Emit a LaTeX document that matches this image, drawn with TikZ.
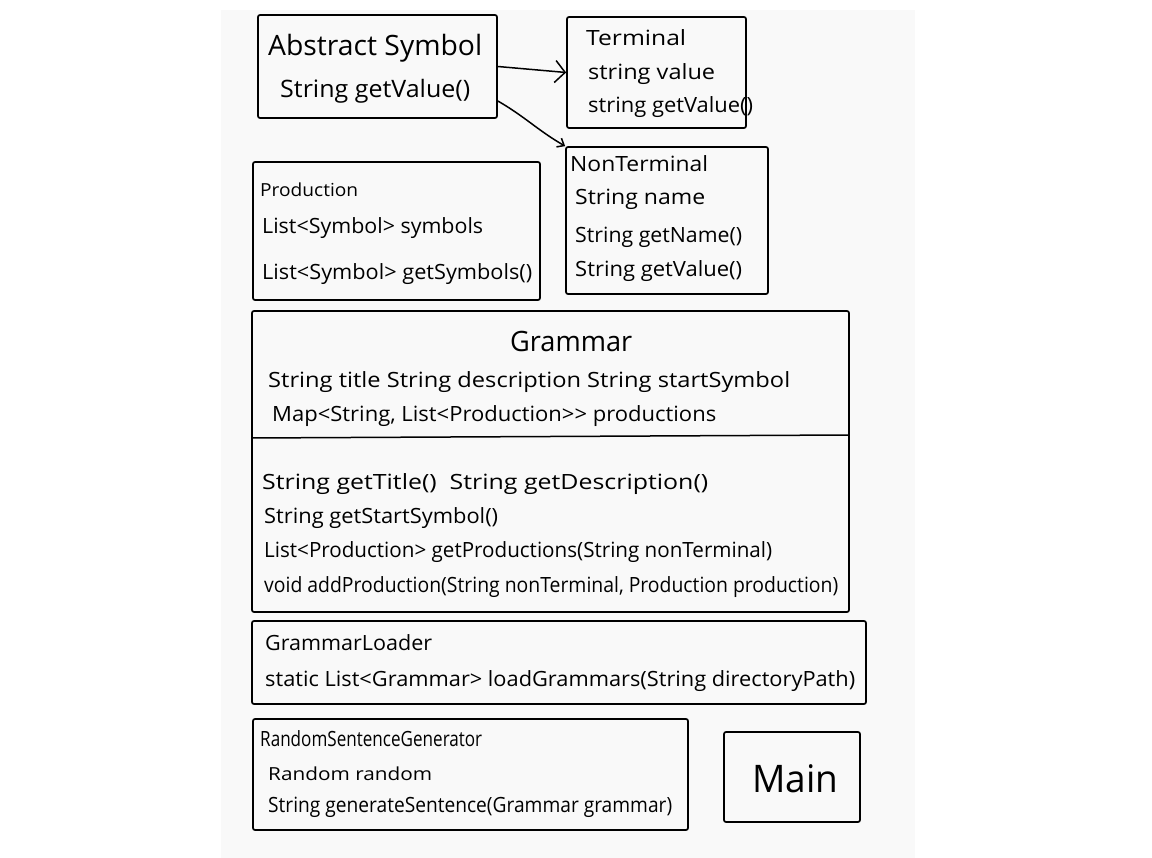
\documentclass[tikz,border=0pt]{standalone}
\usepackage{fontspec}
\setmainfont{Open Sans}
\usetikzlibrary{arrows.meta}
\definecolor{paper}{HTML}{F9F9F9}
% each text line keeps its font height and is stretched to the width it takes
\newcommand{\linetext}[2]{\resizebox{#1pt}{\height}{#2}}
\begin{document}
\begin{tikzpicture}[x=1pt,y=-1pt,
  umlbox/.style={draw=black, line width=1.7pt, rounded corners=2pt, inner sep=0pt},
  txt/.style={anchor=base west, inner sep=0pt, text=black, font=\fontsize{21}{25}\selectfont},
  smalltxt/.style={txt, font=\fontsize{18}{22}\selectfont},
  bigtxt/.style={txt, font=\fontsize{28}{32}\selectfont},
  hugetxt/.style={txt, font=\fontsize{38}{42}\selectfont},
  link/.style={draw=black, line width=1.5pt}
]
\useasboundingbox (0,0) rectangle (1152,858);
\fill[white] (0,0) rectangle (1152,858);
\fill[paper] (221,10) rectangle (915,858);

% AbstractSymbol
\node[umlbox, minimum width=239pt, minimum height=103pt] (as) at (377.5,66.5) {};
\node[bigtxt] (as1) at (268,56) {\linetext{214}{Abstract Symbol}};
\node[txt, font=\fontsize{24}{28}\selectfont] (as2) at (280,98) {\linetext{190}{String getValue()}};

% Terminal
\node[umlbox, minimum width=179pt, minimum height=111pt] (term) at (656.5,72.5) {};
\node[txt] (t1) at (586,46) {\linetext{100}{Terminal}};
\node[txt] (t2) at (588,80) {\linetext{127}{string value}};
\node[txt] (t3) at (588,113) {\linetext{165}{string getValue()}};

% NonTerminal
\node[umlbox, minimum width=202pt, minimum height=147pt] (nt) at (667,220.5) {};
\node[txt] (n1) at (570,172) {\linetext{138}{NonTerminal}};
\node[txt] (n2) at (575,205) {\linetext{130}{String name}};
\node[txt] (n3) at (575,243) {\linetext{167}{String getName()}};
\node[txt] (n4) at (575,277) {\linetext{167}{String getValue()}};

% Production
\node[umlbox, minimum width=287pt, minimum height=138pt] (prod) at (396.5,231) {};
\node[smalltxt] (p1) at (260,197) {\linetext{98}{Production}};
\node[txt] (p2) at (262,234) {\linetext{221}{List<Symbol> symbols}};
\node[txt] (p3) at (262,280) {\linetext{270}{List<Symbol> getSymbols()}};

% Grammar
\node[umlbox, minimum width=597pt, minimum height=301pt] (gr) at (550.5,461.5) {};
\draw[line width=1.5pt] (gr.west |- 0,438) -- (gr.east |- 0,435);
\node[bigtxt] (g0) at (510,352) {\linetext{122}{Grammar}};
\node[txt] (g1) at (268,388) {\linetext{522}{String title String description String startSymbol}};
\node[txt] (g2) at (272,422) {\linetext{444}{Map<String, List<Production>{}> productions}};
\node[txt] (g3) at (262,490) {\linetext{446}{String getTitle()\ \ String getDescription()}};
\node[txt] (g4) at (264,524) {\linetext{234}{String getStartSymbol()}};
\node[txt] (g5) at (264,558) {\linetext{508}{List<Production> getProductions(String nonTerminal)}};
\node[txt] (g6) at (264,592) {\linetext{574}{void addProduction(String nonTerminal, Production production)}};

% GrammarLoader
\node[umlbox, minimum width=614pt, minimum height=83pt] (gl) at (559,662.5) {};
\node[txt] (l1) at (265,650) {\linetext{167}{GrammarLoader}};
\node[txt] (l2) at (265,686) {\linetext{590}{static List<Grammar> loadGrammars(String directoryPath)}};

% RandomSentenceGenerator
\node[umlbox, minimum width=435pt, minimum height=111pt] (rsg) at (470.5,774.5) {};
\node[txt] (r1) at (260,746) {\linetext{222}{RandomSentenceGenerator}};
\node[smalltxt] (r2) at (268,780) {\linetext{164}{Random random}};
\node[txt] (r3) at (268,812) {\linetext{404}{String generateSentence(Grammar grammar)}};

% Main
\node[umlbox, minimum width=136pt, minimum height=90pt] (main) at (792,777) {};
\node[hugetxt] (m1) at (752,792) {\linetext{86}{Main}};

% inheritance links
\draw[link, -{Straight Barb[length=10pt,width=22pt,line width=1.5pt]}] (as.east) -- (term.west);
\draw[link, -{Straight Barb[length=6pt,width=10pt,line width=1.5pt]}] (as.-16) to[out=-30,in=150] (nt.north west);
\end{tikzpicture}
\end{document}
